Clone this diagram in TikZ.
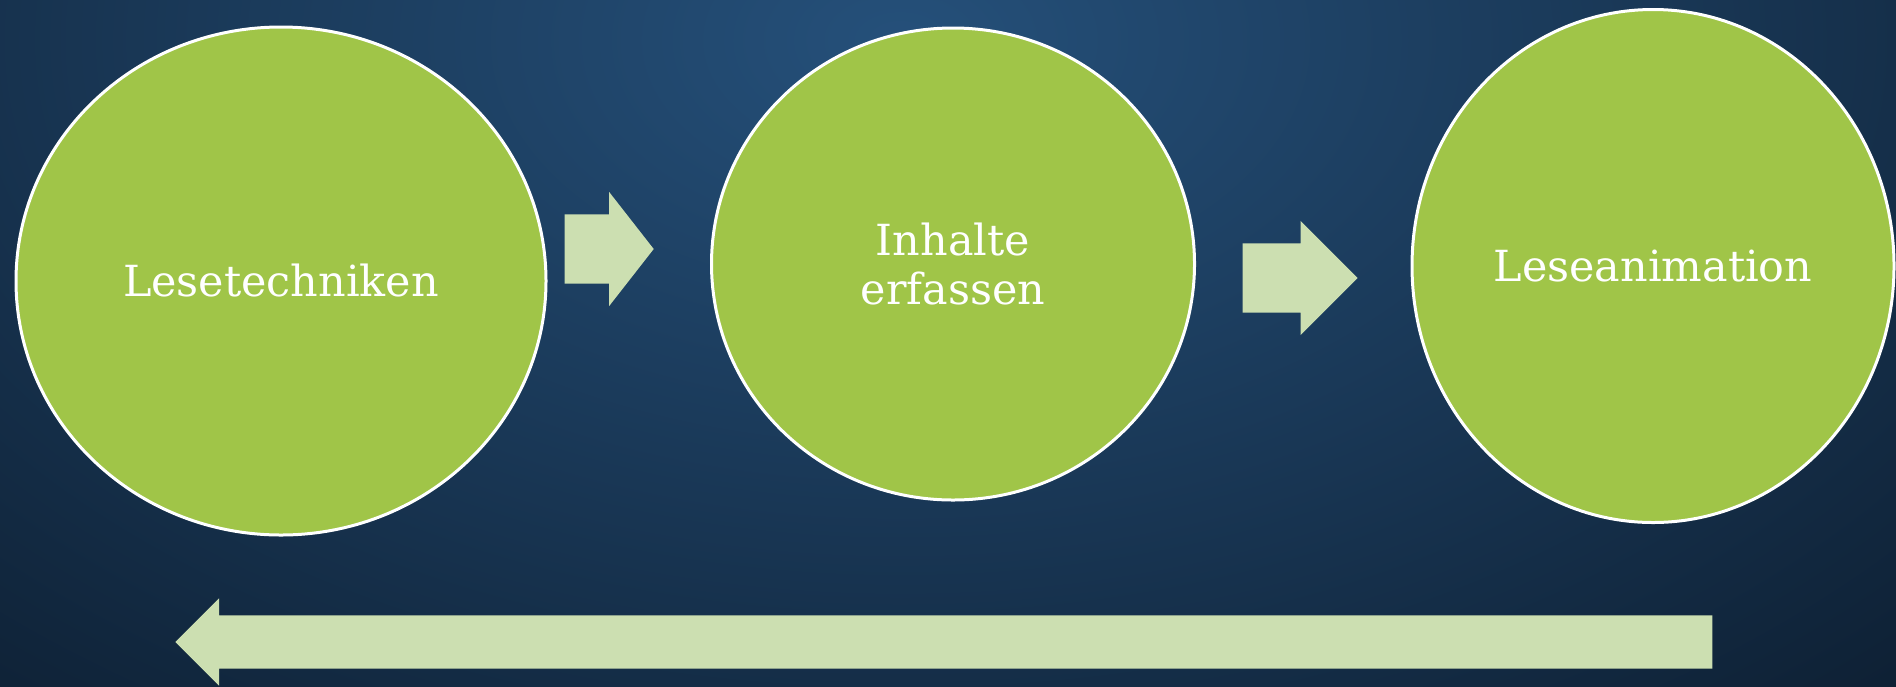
\documentclass[tikz,border=0pt]{standalone}
\usepackage{fontspec}
\setmainfont{DejaVu Serif}
\usetikzlibrary{positioning,shapes.geometric,shapes.arrows}

\definecolor{bgdark}{HTML}{0A1828}
\definecolor{bglight}{HTML}{25507A}
\definecolor{stagegreen}{HTML}{A0C548}
\definecolor{flowgreen}{HTML}{CCDFB1}

\begin{document}
\begin{tikzpicture}[
    x=0.1mm, y=-0.1mm,
    stage/.style={ellipse, draw=white, line width=0.3mm, fill=stagegreen,
                  inner sep=0pt, align=center, text=white,
                  font=\fontsize{12.2}{14.2}\selectfont},
    flow/.style={single arrow, fill=flowgreen, draw=none,
                 inner xsep=0pt, anchor=tail}
  ]
  \useasboundingbox (0,0) rectangle (1896,686);

  % background
  \fill[bgdark] (0,0) rectangle (1896,686);
  \begin{scope}
    \clip (0,0) rectangle (1896,686);
    \shade[inner color=bglight, outer color=bgdark]
      (900,40) ellipse [x radius=170mm, y radius=105mm];
  \end{scope}

  % the three steps
  \node[stage, minimum width=53mm, minimum height=50.8mm] (tech)
    at (281,281) {Lesetechniken};
  \node[stage, minimum width=48.3mm, minimum height=47.2mm] (content)
    at (953,264) {Inhalte\\erfassen};
  \node[stage, minimum width=48.2mm, minimum height=51.3mm] (anim)
    at (1653,266) {Leseanimation};

  % block arrows between the steps
  \node[flow, inner ysep=3.4mm, single arrow head extend=2.25mm,
        single arrow tip angle=104, minimum height=8.9mm] (techtocontent)
    at (564,249) {};
  \node[flow, inner ysep=3.4mm, single arrow head extend=2.25mm,
        single arrow tip angle=90, minimum height=11.5mm] (contenttoanim)
    at (1242,278) {};

  % long arrow back
  \node[flow, rotate=180, inner ysep=2.6mm, single arrow head extend=1.7mm,
        single arrow tip angle=90, minimum height=153.7mm] (back)
    at (1713,642) {};
\end{tikzpicture}
\end{document}
